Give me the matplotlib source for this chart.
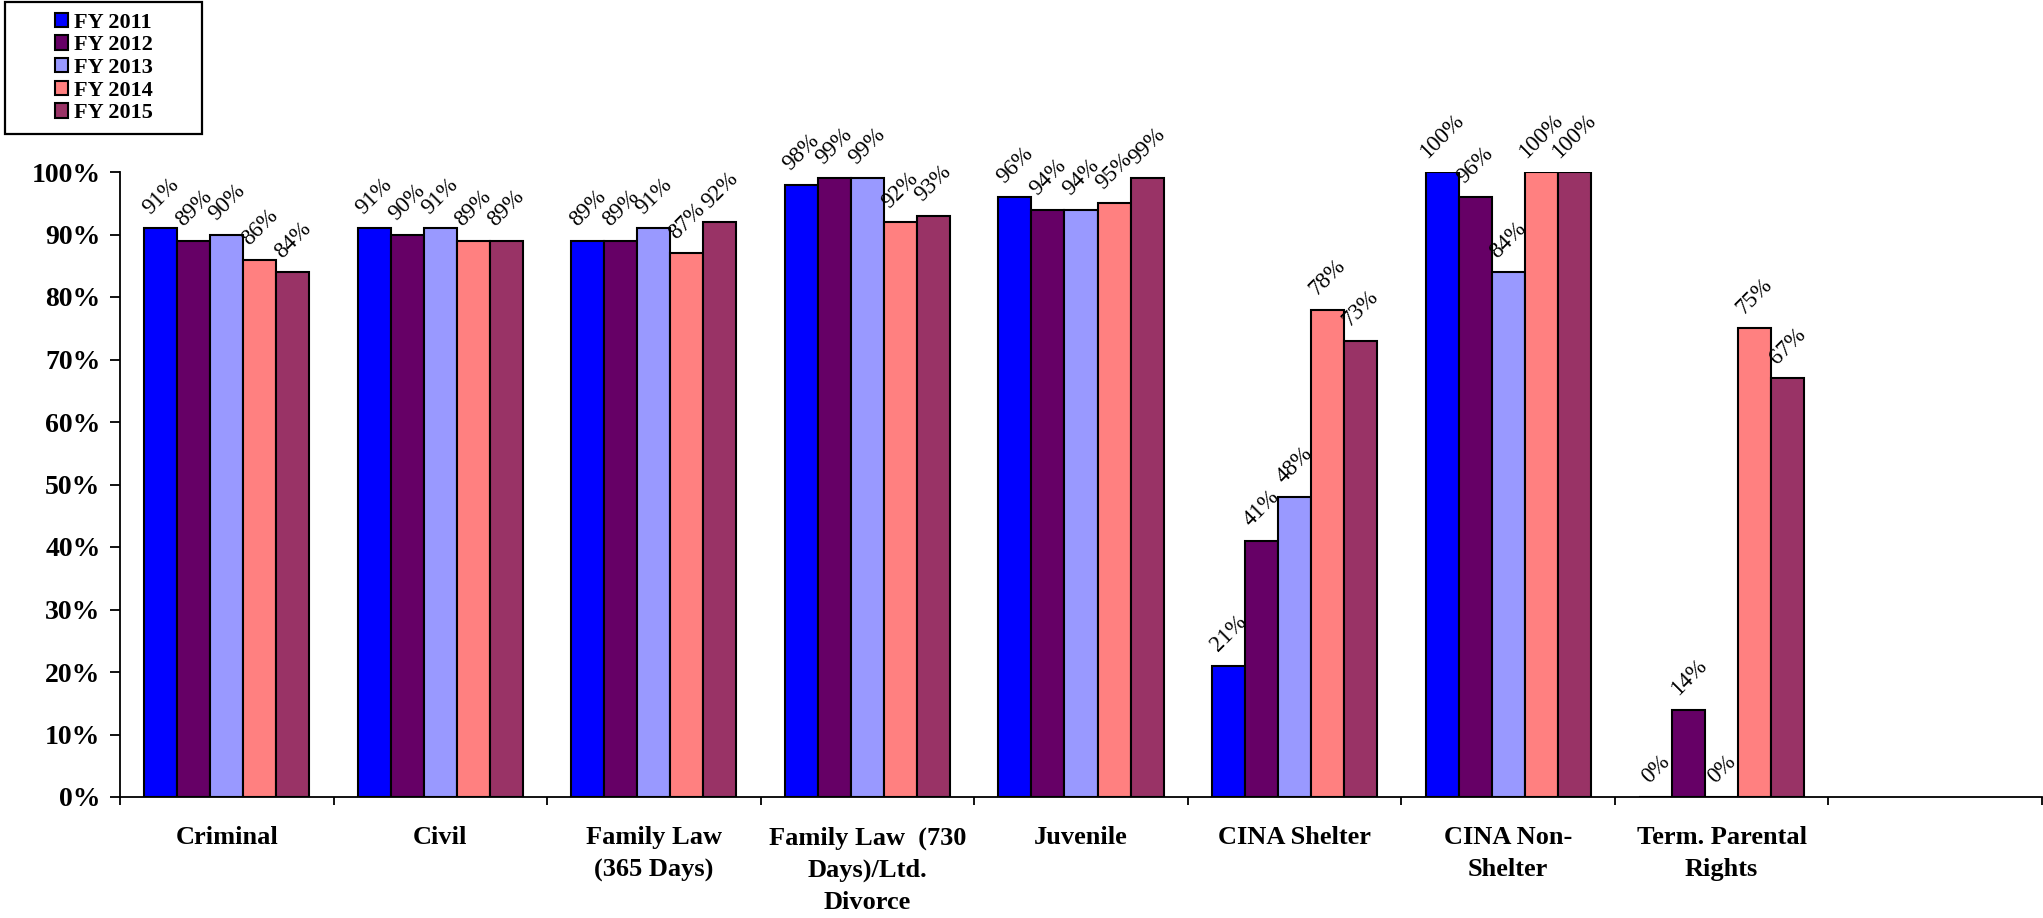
import numpy as np
import matplotlib
matplotlib.use('Agg')
import matplotlib.pyplot as plt
from matplotlib.patches import Rectangle
from matplotlib.ticker import FuncFormatter

plt.rcParams['font.family'] = ['Liberation Serif', 'DejaVu Serif']

categories = ['Criminal', 'Civil', 'Family Law\n(365 Days)',
              'Family Law  (730\nDays)/Ltd.\nDivorce', 'Juvenile',
              'CINA Shelter', 'CINA Non-\nShelter', 'Term. Parental\nRights', '']
years = ['FY 2011', 'FY 2012', 'FY 2013', 'FY 2014', 'FY 2015']

# percent per category, one list per fiscal year (last slot is empty)
fy2011 = [91, 91, 89, 98, 96, 21, 100, 0]
fy2012 = [89, 90, 89, 99, 94, 41, 96, 14]
fy2013 = [90, 91, 91, 99, 94, 48, 84, 0]
fy2014 = [86, 89, 87, 92, 95, 78, 100, 75]
fy2015 = [84, 89, 92, 93, 99, 73, 100, 67]

colors = ['#0000FF', '#660066', '#9999FF', '#FF8080', '#993366']

W, H = 2043, 918
fig = plt.figure(figsize=(W / 100, H / 100), dpi=100)
ax = fig.add_axes([120 / W, (H - 797) / H, (2042 - 120) / W, 625 / H])

series = [fy2011, fy2012, fy2013, fy2014, fy2015]
x = np.arange(len(fy2011))
bw = 0.1546

for i, (vals, col, lab) in enumerate(zip(series, colors, years)):
    v = np.array(vals) / 100.0
    pos = x + (i - 2) * bw
    ax.bar(pos, v, bw, color=col, edgecolor='black', linewidth=1.5, label=lab, zorder=3)
    for px, py, raw in zip(pos, v, vals):
        ax.annotate('%d%%' % raw, (px, py), xytext=(0, 7), textcoords='offset points',
                    ha='center', va='bottom', rotation=45, fontsize=16.5,
                    annotation_clip=False)

ax.set_xlim(-0.5, len(categories) - 0.5)
ax.set_ylim(0, 1.0)
ax.set_yticks(np.arange(0, 1.01, 0.1))
ax.yaxis.set_major_formatter(FuncFormatter(lambda v, p: '%d%%' % round(v * 100)))

ax.set_xticks(np.arange(len(categories)))
ax.set_xticklabels(categories, fontsize=19, fontweight='bold', linespacing=1.5)
ax.set_xticks(np.arange(len(categories) + 1) - 0.5, minor=True)
ax.tick_params(axis='x', which='major', length=0, pad=21)
ax.tick_params(axis='x', which='minor', length=6, width=1.3, direction='out')
ax.tick_params(axis='y', length=7, width=1.3, direction='out', labelsize=20, pad=7)
for t in ax.get_yticklabels():
    t.set_fontweight('bold')

for s in ['top', 'right']:
    ax.spines[s].set_visible(False)
for s in ['left', 'bottom']:
    ax.spines[s].set_linewidth(1.3)

# legend box in top-left corner
fig.patches.append(Rectangle((5 / W, (H - 134) / H), 197 / W, 132 / H,
                             transform=fig.transFigure, fill=False,
                             edgecolor='black', linewidth=1.6))
handles, labels = ax.get_legend_handles_labels()
fig.legend(handles, labels, loc='center',
           bbox_to_anchor=(5 / W, (H - 134) / H, 197 / W, 132 / H),
           frameon=False, prop={'weight': 'bold', 'size': 16},
           handlelength=0.6, handleheight=0.6, handletextpad=0.25,
           labelspacing=0.12, borderpad=0)

fig.savefig('out.png', dpi=100)
